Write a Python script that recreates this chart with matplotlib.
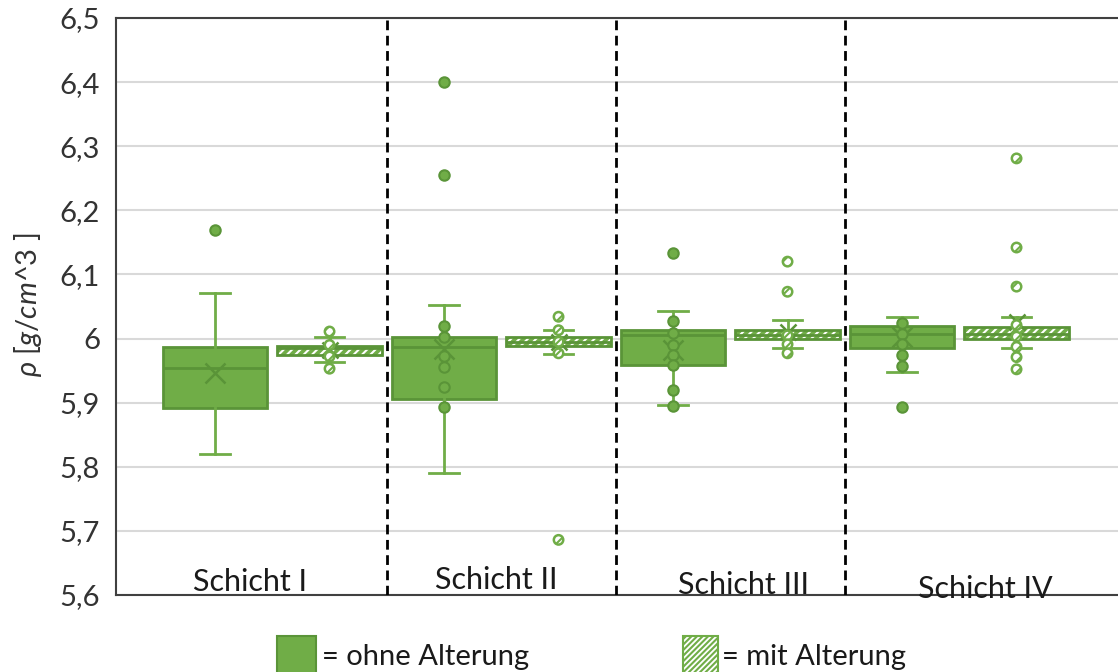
import numpy as np
import matplotlib
matplotlib.use('Agg')
import matplotlib.pyplot as plt
from matplotlib.patches import Rectangle, PathPatch

plt.rcParams['font.family'] = ['Lato', 'DejaVu Sans']
plt.rcParams['mathtext.fontset'] = 'custom'
plt.rcParams['mathtext.it'] = 'Lato:italic'
plt.rcParams['mathtext.rm'] = 'Lato'
plt.rcParams['hatch.linewidth'] = 1.5

labels = ['Schicht I', 'Schicht II', 'Schicht III', 'Schicht IV']
yticks = [5.6, 5.7, 5.8, 5.9, 6.0, 6.1, 6.2, 6.3, 6.4, 6.5]
ytick_labels = ['5,6', '5,7', '5,8', '5,9', '6', '6,1', '6,2', '6,3', '6,4', '6,5']

# ohne Alterung
ohne_q1 = [5.891, 5.905, 5.958, 5.986]
ohne_med = [5.954, 5.987, 6.005, 6.007]
ohne_q3 = [5.987, 6.003, 6.013, 6.020]
ohne_lo = [5.820, 5.791, 5.896, 5.948]
ohne_hi = [6.071, 6.053, 6.043, 6.033]
ohne_mean = [5.947, 5.984, 5.982, 6.003]
ohne_pts = [
    [6.170],
    [6.400, 6.255, 6.020, 6.003, 5.973, 5.956, 5.924, 5.893],
    [6.133, 6.028, 6.009, 5.990, 5.974, 5.958, 5.919, 5.895],
    [6.024, 6.007, 5.991, 5.974, 5.957, 5.893],
]

# mit Alterung
mit_q1 = [5.975, 5.988, 5.999, 5.999]
mit_med = [5.985, 5.995, 6.005, 6.007]
mit_q3 = [5.989, 6.003, 6.013, 6.018]
mit_lo = [5.964, 5.976, 5.985, 5.986]
mit_hi = [6.002, 6.013, 6.029, 6.033]
mit_mean = [5.982, 5.995, 6.010, 6.026]
mit_pts = [
    [6.011, 5.990, 5.972, 5.953],
    [6.034, 6.013, 5.995, 5.977, 5.686],
    [6.120, 6.073, 6.005, 5.991, 5.977],
    [6.281, 6.142, 6.081, 6.021, 6.003, 5.987, 5.971, 5.952],
]

green = '#70ad47'
dark = '#5a9438'

fig = plt.figure(figsize=(11.18, 6.72), dpi=100)
ax = fig.add_axes([116 / 1118, 77 / 672, 1006 / 1118, 577 / 672])

pos_ohne = 0.865 + 2 * np.arange(4)
pos_mit = pos_ohne + 1


def stats(q1, med, q3, lo, hi, mean):
    return [dict(q1=a, med=b, q3=c, whislo=d, whishi=e, mean=f, fliers=[])
            for a, b, c, d, e, f in zip(q1, med, q3, lo, hi, mean)]


common = dict(widths=0.91, capwidths=0.26, patch_artist=True, showmeans=True,
              showfliers=False,
              whiskerprops=dict(color=green, lw=2),
              capprops=dict(color=green, lw=2),
              medianprops=dict(color=dark, lw=2),
              meanprops=dict(marker='x', markersize=14, markeredgecolor=dark,
                             markeredgewidth=1.8))

b1 = ax.bxp(stats(ohne_q1, ohne_med, ohne_q3, ohne_lo, ohne_hi, ohne_mean),
            positions=pos_ohne,
            boxprops=dict(facecolor=green, edgecolor=dark, lw=2), **common)

b2 = ax.bxp(stats(mit_q1, mit_med, mit_q3, mit_lo, mit_hi, mit_mean),
            positions=pos_mit,
            boxprops=dict(facecolor=green, edgecolor='white', lw=0, hatch='////'),
            **common)
for box in b2['boxes']:
    ax.add_patch(PathPatch(box.get_path(), fill=False, edgecolor=dark, lw=2,
                           zorder=box.get_zorder() + 0.1))
for m in b2['means']:
    m.set_markersize(11)

for p, pts in zip(pos_ohne, ohne_pts):
    ax.plot([p] * len(pts), pts, 'o', ms=7.5, mfc=green, mec=dark, mew=1.5,
            zorder=5)
for p, pts in zip(pos_mit, mit_pts):
    ax.scatter([p] * len(pts), pts, s=46, facecolor='white', edgecolor=green,
               hatch='///', lw=1.8, zorder=5)

for x in (pos_mit[:-1] + pos_ohne[1:]) / 2:
    ax.axvline(x, color='black', lw=2, ls=(0, (3.5, 2)), zorder=6)

for x, y, t in zip([1.17, 3.32, 5.48, 7.59], [5.620, 5.624, 5.615, 5.610], labels):
    ax.text(x, y, t, ha='center', va='center', fontsize=22, color='#1a1a1a')

ax.set_xlim(0, 1006 / 114.5)
ax.set_ylim(5.6, 6.5)
ax.set_yticks(yticks)
ax.set_yticklabels(ytick_labels)
ax.set_xticks([])
ax.tick_params(axis='y', length=0, pad=11.5, labelsize=21, labelcolor='#333333')
ax.yaxis.grid(True, color='#d9d9d9', lw=1.5)
ax.set_axisbelow(True)
for s in ('left', 'top', 'bottom'):
    ax.spines[s].set_color('#404040')
    ax.spines[s].set_linewidth(1.5)
ax.spines['right'].set_visible(False)

fig.text(28 / 1118, 1 - 305 / 672, r'$\rho$ [$g/cm$^3 ]', rotation=90,
         ha='center', va='center', fontsize=21, color='#333333')

# legend
fig.add_artist(Rectangle((277 / 1118, -0.01), 39 / 1118, 36 / 672 + 0.01,
                         transform=fig.transFigure, facecolor=green,
                         edgecolor=dark, lw=1.5))
fig.add_artist(Rectangle((683 / 1118, -0.01), 35 / 1118, 36 / 672 + 0.01,
                         transform=fig.transFigure, facecolor='white',
                         edgecolor=green, lw=1.5, hatch='//////'))
fig.text(322 / 1118, 1 - 657 / 672, '= ohne Alterung', ha='left', va='center',
         fontsize=21, color='#1a1a1a')
fig.text(722 / 1118, 1 - 657 / 672, '= mit Alterung', ha='left', va='center',
         fontsize=21, color='#1a1a1a')

fig.savefig('out.png', dpi=100)
